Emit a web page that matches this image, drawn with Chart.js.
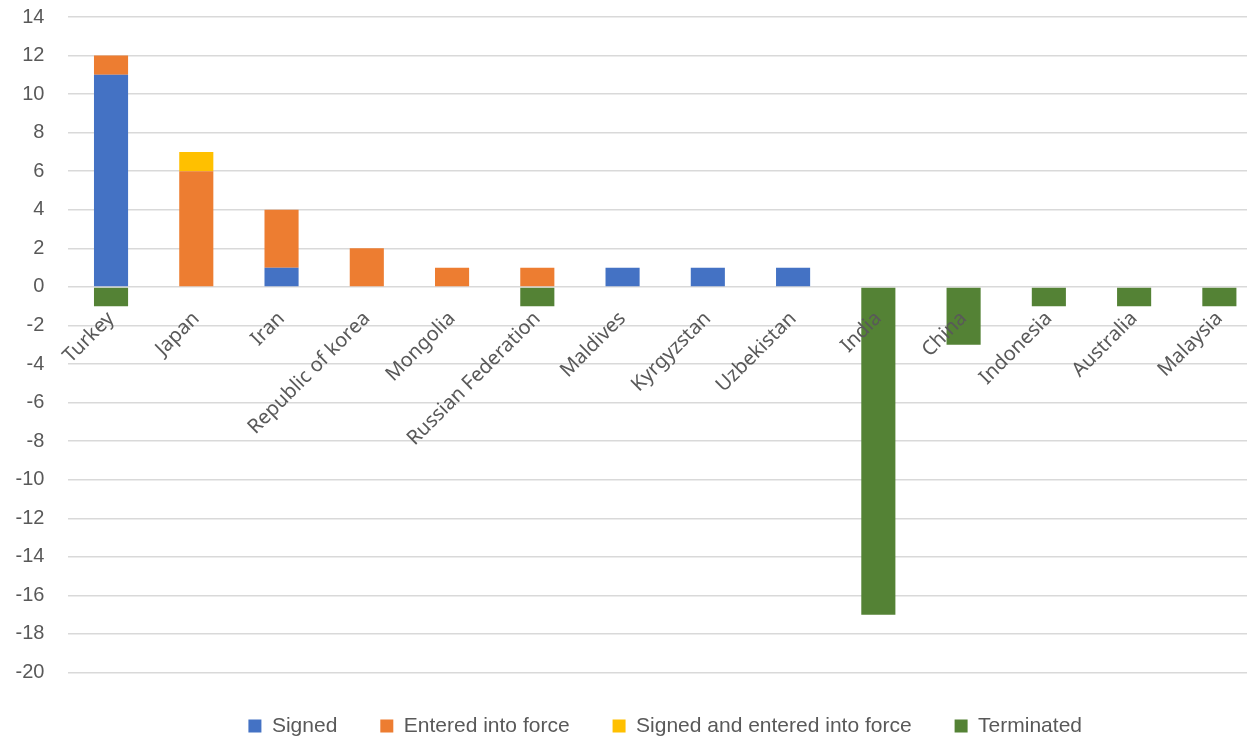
<!DOCTYPE html>
<html>
<head>
<meta charset="utf-8">
<script src="https://cdn.jsdelivr.net/npm/chart.js@4/dist/chart.umd.min.js"></script>
<style>
html,body{margin:0;padding:0;background:#fff;overflow:hidden;width:1247px;height:738px;}
canvas{display:block;margin-top:-19px;}
</style>
</head>
<body>
<canvas id="c" width="1262" height="757"></canvas>
<script>
const categories = ["Turkey","Japan","Iran","Republic of korea","Mongolia","Russian Federation","Maldives","Kyrgyzstan","Uzbekistan","India","China","Indonesia","Australia","Malaysia"];
const signed =            [11, 0, 1, 0, 0, 0, 1, 1, 1, 0, 0, 0, 0, 0];
const enteredIntoForce =  [1, 6, 3, 2, 1, 1, 0, 0, 0, 0, 0, 0, 0, 0];
const signedAndEntered =  [0, 1, 0, 0, 0, 0, 0, 0, 0, 0, 0, 0, 0, 0];
const terminated =        [-1, 0, 0, 0, 0, -1, 0, 0, 0, -17, -3, -1, -1, -1];
const seriesNames = ["Signed","Entered into force","Signed and entered into force","Terminated"];
const yMin = -20, yMax = 14, yStep = 2;

const colors = ["#4472C4","#ED7D31","#FFC000","#548235"];
const values = [signed, enteredIntoForce, signedAndEntered, terminated];

new Chart(document.getElementById('c'), {
  type: 'bar',
  data: {
    labels: categories,
    datasets: values.map((v, i) => ({
      label: seriesNames[i],
      data: v,
      backgroundColor: colors[i],
      borderWidth: 0,
      categoryPercentage: 1,
      barPercentage: 0.4
    }))
  },
  options: {
    responsive: false,
    animation: false,
    layout: { padding: { top: 0, bottom: -8.5, left: 0, right: 0 } },
    plugins: {
      tooltip: { enabled: false },
      legend: {
        position: 'bottom',
        fullSize: false,
        labels: {
          boxWidth: 13,
          boxHeight: 13,
          padding: 43,
          color: '#595959',
          font: { family: "'Liberation Sans Narrow', 'Liberation Sans', Arial, sans-serif", size: 21 }
        }
      }
    },
    scales: {
      x: {
        stacked: true,
        position: { y: 0 },
        grid: { display: false, drawTicks: false },
        border: { display: false },
        ticks: {
          z: 1,
          autoSkip: false,
          minRotation: 45,
          maxRotation: 45,
          padding: 20,
          color: '#595959',
          font: { family: "'Noto Sans', sans-serif", size: 20 }
        }
      },
      y: {
        stacked: true,
        min: yMin,
        max: yMax,
        grid: { color: '#d9d9d9', lineWidth: 1.5, drawTicks: false },
        border: { display: false },
        afterFit: (s) => { s.width = 68.4; },
        ticks: {
          stepSize: yStep,
          padding: 24,
          color: '#595959',
          font: { family: "'Liberation Sans', Arial, sans-serif", size: 20 }
        }
      }
    }
  }
});
</script>
</body>
</html>
